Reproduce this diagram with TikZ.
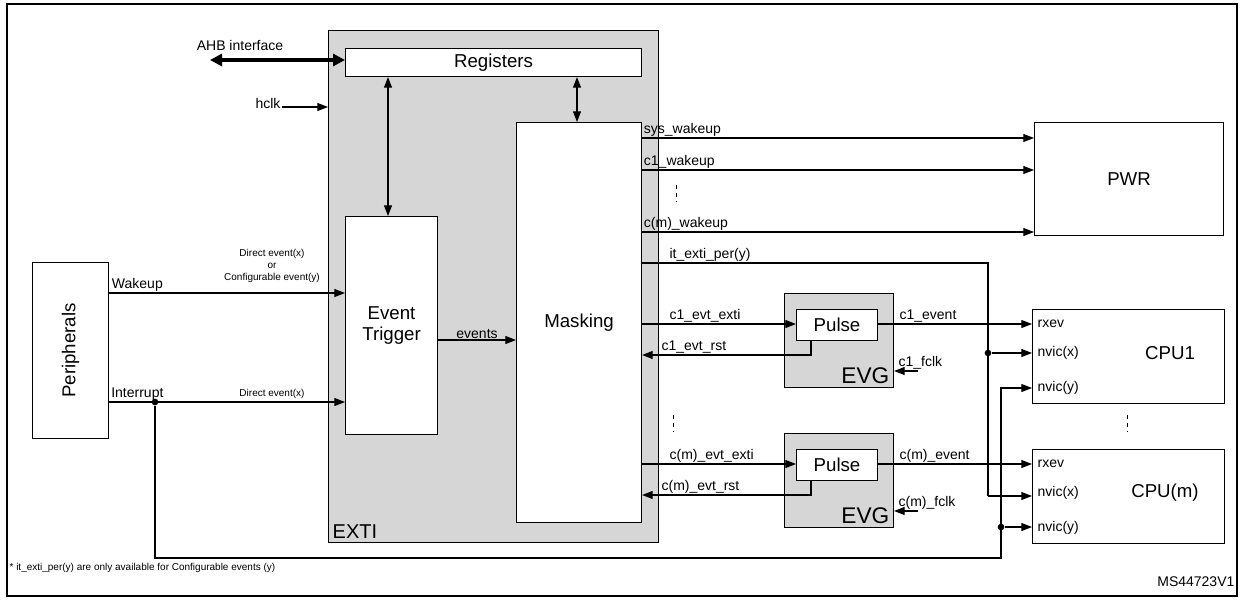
\documentclass[tikz,border=0pt]{standalone}
\usepackage{fontspec}
\setmainfont{Liberation Sans}
\usetikzlibrary{arrows.meta,positioning,calc}
\tikzset{
    box/.style={draw, thick, fill=white, anchor=north west, inner sep=0pt},
    grey/.style={box, fill=black!16},
    sig/.style={-{Triangle[length=8pt, width=6pt]}, thick},
    both/.style={{Triangle[length=8pt, width=6pt]}-{Triangle[length=8pt, width=6pt]}, thick},
    lab/.style={font=\fontsize{10.5}{12}\selectfont, inner sep=1pt},
    tiny/.style={font=\fontsize{7.5}{9}\selectfont, inner sep=1pt, align=center},
    big/.style={font=\fontsize{14}{16}\selectfont},
    dot/.style={circle, fill, inner sep=0pt, minimum size=5pt}
}
\begin{document}
\begin{tikzpicture}[x=0.75pt, y=-0.75pt]
    \useasboundingbox (0,0) rectangle (1240,600);
    \draw[thick] (7,4) rectangle (1237,596);

    % blocks
    \node[grey, minimum width=247.5pt, minimum height=384pt] (exti) at (328,30) {};
    \node[big, anchor=south west] at (exti.south west) {\fontsize{15}{17}\selectfont EXTI};
    \node[box, big, minimum width=222pt, minimum height=21pt] (reg) at (345,48) {Registers};
    \node[box, big, minimum width=69pt, minimum height=163.5pt, align=center] (trig) at (345,216) {Event\\Trigger};
    \node[box, big, minimum width=93.75pt, minimum height=300pt] (mask) at (516,122) {Masking};
    \node[box, big, minimum width=57pt, minimum height=132pt] (peri) at (32,262) {};
    \node[big, rotate=90] at (peri.center) {Peripherals};
    \node[box, big, minimum width=141.75pt, minimum height=84.75pt] (pwr) at (1034,122) {PWR};
    \node[box, minimum width=144pt, minimum height=70.5pt] (cpu1) at (1032,309) {};
    \node[big] at (1170,353) {CPU1};
    \node[box, minimum width=144pt, minimum height=70.5pt] (cpum) at (1032,449) {};
    \node[big] at (1165,493) {CPU(m)};
    \foreach \c/\y in {cpu1/0, cpum/140} {
        \node[lab, anchor=west] at (1036,324+\y) {rxev};
        \node[lab, anchor=west] at (1036,353+\y) {nvic(x)};
        \node[lab, anchor=west] at (1036,388+\y) {nvic(y)};
    }
    \node[grey, minimum width=81.75pt, minimum height=70.5pt] (evg1) at (784,293) {};
    \node[big, anchor=south east, font=\fontsize{17}{19}\selectfont] at (evg1.south east) {EVG};
    \node[box, big, minimum width=60.75pt, minimum height=23.25pt] (pul1) at (796,309) {Pulse};
    \node[grey, minimum width=81.75pt, minimum height=70.5pt] (evgm) at (784,433) {};
    \node[big, anchor=south east, font=\fontsize{17}{19}\selectfont] at (evgm.south east) {EVG};
    \node[box, big, minimum width=60.75pt, minimum height=23.25pt] (pulm) at (796,449) {Pulse};

    % bus and clock
    \draw[{Triangle[length=9pt, width=9pt]}-{Triangle[length=9pt, width=9pt]}, line width=2.5pt] (210,60) -- (reg.west |- 0,60);
    \node[lab, anchor=south] at (240,52) {AHB interface};
    \draw[sig] (282,107) -- (exti.west |- 0,107);
    \node[lab, anchor=south] at (268,110) {hclk};
    \draw[both] (reg.south -| 388,0) -- (trig.north -| 388,0);
    \draw[both] (reg.south -| 577,0) -- (mask.north -| 577,0);
    \draw[sig] (trig.east |- 0,340) -- node[lab, above] {events} (mask.west |- 0,340);

    % peripheral inputs
    \draw[sig] (peri.east |- 0,293) -- node[lab, above, pos=0.12] {Wakeup} (trig.west |- 0,293);
    \node[tiny] at (272,266) {Direct event(x)\\or\\Configurable event(y)};
    \draw[sig] (peri.east |- 0,402) -- node[lab, above, pos=0.12] {Interrupt} (trig.west |- 0,402);
    \node[tiny, anchor=south] at (272,400) {Direct event(x)};
    \node[dot] (d1) at (155,402) {};
    \draw[sig] (d1) |- (1001,558) -- (1001,388) -- (cpu1.west |- 0,388);
    \node[dot] (d2) at (1001,527) {};
    \draw[sig] (d2) -- (cpum.west |- 0,527);

    % wakeups
    \foreach \y/\t in {138/sys\_wakeup, 170/c1\_wakeup, 232/c(m)\_wakeup}
        \draw[sig] (mask.east |- 0,\y) -- (pwr.west |- 0,\y) node[lab, above right, pos=0] at (668,\y) {\t};
    \draw[dashed, thin] (676,185) -- (676,202);
    \draw[thick] (mask.east |- 0,263) -| (988,496);
    \node[lab, above right] at (668,263) {it\_exti\_per(y)};
    \draw[sig] (988,496) -- (cpum.west |- 0,496);
    \node[dot] (d3) at (988,353) {};
    \draw[sig] (d3) -- (cpu1.west |- 0,353);

    % event generators
    \foreach \p/\c/\y/\n in {pul1/cpu1/324/c1, pulm/cpum/464/c(m)} {
        \draw[sig] (mask.east |- 0,\y) -- (\p.west |- 0,\y);
        \node[lab, above right] at (668,\y) {\n\_evt\_exti};
        \draw[sig] (\p.east |- 0,\y) -- (\c.west |- 0,\y);
        \node[lab, above right] at (898,\y) {\n\_event};
        \draw[sig] (\p.south -| 811,0) |- (mask.east |- 0,\y+31);
        \node[lab, above right] at (660,\y+31) {\n\_evt\_rst};
        \draw[sig] (918,\y+47) -- (evg1.east |- 0,\y+47);
        \node[lab, above right] at (897,\y+47) {\n\_fclk};
    }
    \draw[dashed, thin] (673,415) -- (673,432);
    \draw[dashed, thin] (1127,415) -- (1127,432);

    \node[tiny, anchor=west] at (8,568) {* it\_exti\_per(y) are only available for Configurable events (y)};
    \node[lab, anchor=east] at (1236,582) {MS44723V1};
\end{tikzpicture}
\end{document}
